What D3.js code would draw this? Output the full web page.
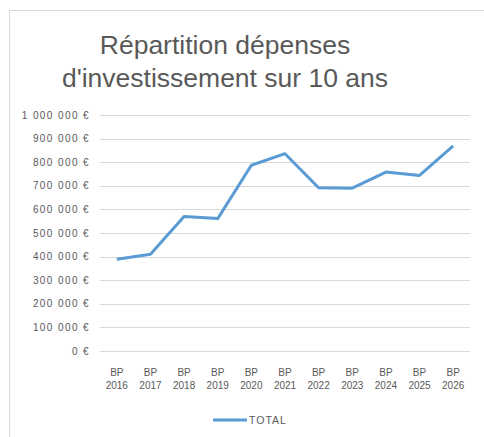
<!DOCTYPE html>
<html>
<head>
<meta charset="utf-8">
<script src="https://cdn.jsdelivr.net/npm/d3@7"></script>
<style>
  body { margin: 0; background: #fff; }
  text { font-family: "Liberation Sans", Arial, sans-serif; fill: #595959; }
</style>
</head>
<body>
<div id="chart"></div>
<script>
const years = ["2016", "2017", "2018", "2019", "2020", "2021", "2022", "2023", "2024", "2025", "2026"];
const totals = [389000, 410000, 570000, 561000, 787000, 836000, 692000, 690000, 758000, 744000, 869000];
const yTicks = [0, 100000, 200000, 300000, 400000, 500000, 600000, 700000, 800000, 900000, 1000000];
const titleLines = ["Répartition dépenses", "d'investissement sur 10 ans"];
const seriesName = "TOTAL";

const width = 484, height = 437;
const margin = { top: 115, right: 14, bottom: 86, left: 100 };

const svg = d3.select("#chart")
  .append("svg")
    .attr("width", width)
    .attr("height", height);

// chart frame (only top and left edges are visible in the crop)
svg.append("rect")
  .attr("x", 9.5)
  .attr("y", 10.5)
  .attr("width", width)
  .attr("height", height)
  .attr("fill", "none")
  .attr("stroke", "#d9d9d9");

svg.append("g")
  .selectAll("text")
  .data(titleLines)
  .join("text")
    .attr("x", 225)
    .attr("y", (d, i) => 54 + i * 33)
    .attr("text-anchor", "middle")
    .attr("font-size", 26.5)
    .text(d => d);

const x = d3.scaleBand(years, [margin.left, width - margin.right]);
const y = d3.scaleLinear([0, 1000000], [height - margin.bottom, margin.top]);

const fmt = v => d3.format(",")(v).replace(/,/g, " ") + " €";

// gridlines
svg.append("g")
  .selectAll("line")
  .data(yTicks)
  .join("line")
    .attr("x1", margin.left)
    .attr("x2", width - margin.right)
    .attr("y1", d => Math.round(y(d)) + 0.5)
    .attr("y2", d => Math.round(y(d)) + 0.5)
    .attr("stroke", "#d9d9d9")
    .attr("stroke-width", 1);

// y axis labels
svg.append("g")
  .selectAll("text")
  .data(yTicks)
  .join("text")
    .attr("x", 90)
    .attr("y", d => y(d))
    .attr("dy", "0.35em")
    .attr("text-anchor", "end")
    .attr("font-size", 10)
    .attr("letter-spacing", 1.4)
    .text(fmt);

// x axis labels, two lines
const xl = svg.append("g")
  .selectAll("text")
  .data(years)
  .join("text")
    .attr("x", d => x(d) + x.bandwidth() / 2)
    .attr("y", 376)
    .attr("text-anchor", "middle")
    .attr("font-size", 10);
xl.append("tspan").attr("x", d => x(d) + x.bandwidth() / 2).text("BP");
xl.append("tspan").attr("x", d => x(d) + x.bandwidth() / 2).attr("dy", 13).text(d => d);

// the series
const line = d3.line()
  .x((d, i) => x(years[i]) + x.bandwidth() / 2)
  .y(d => y(d));

svg.append("path")
  .datum(totals)
  .attr("d", line)
  .attr("fill", "none")
  .attr("stroke", "#5b9bd5")
  .attr("stroke-width", 3)
  .attr("stroke-linejoin", "round");

// legend
const legend = svg.append("g").attr("transform", "translate(213, 420)");
legend.append("line")
  .attr("x1", 0).attr("x2", 34)
  .attr("stroke", "#5b9bd5")
  .attr("stroke-width", 3);
legend.append("text")
  .attr("x", 36)
  .attr("dy", "0.35em")
  .attr("font-size", 10.5)
  .attr("letter-spacing", 1)
  .text(seriesName);
</script>
</body>
</html>
